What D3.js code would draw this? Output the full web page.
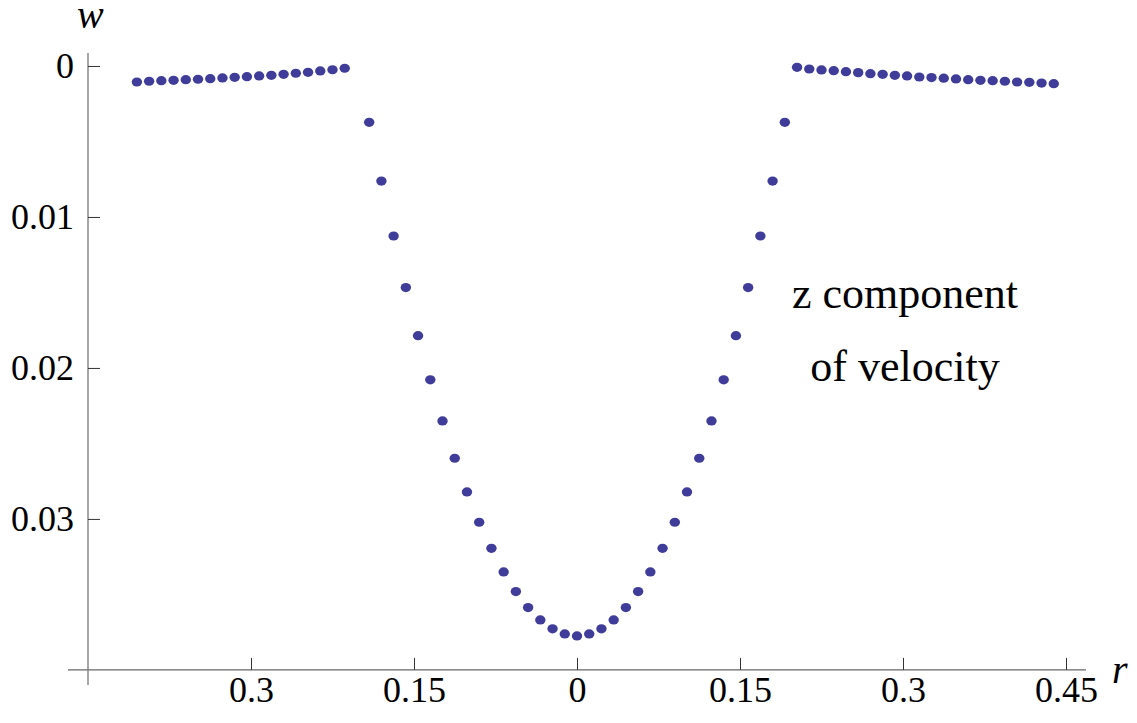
<!DOCTYPE html>
<html>
<head>
<meta charset="utf-8">
<script src="https://cdn.jsdelivr.net/npm/d3@7"></script>
</head>
<body style="margin:0">
<div id="chart"></div>
<script>
// outer region, left side (r < 0)
const rLeft = [-0.405, -0.39375, -0.3825, -0.37125, -0.36, -0.34875, -0.3375, -0.32625, -0.315,
  -0.30375, -0.2925, -0.28125, -0.27, -0.25875, -0.2475, -0.23625, -0.225, -0.21375];
const wLeft = [-0.00106, -0.00101, -0.00097, -0.00095, -0.00091, -0.00088, -0.00084, -0.00079, -0.00075,
  -0.00071, -0.00066, -0.00062, -0.00055, -0.00048, -0.00042, -0.00033, -0.00025, -0.00015];

// core, the dip
const rCore = [-0.19125, -0.18, -0.16875, -0.1575, -0.14625, -0.135, -0.12375, -0.1125, -0.10125,
  -0.09, -0.07875, -0.0675, -0.05625, -0.045, -0.03375, -0.0225, -0.01125, 0,
  0.01125, 0.0225, 0.03375, 0.045, 0.05625, 0.0675, 0.07875, 0.09, 0.10125,
  0.1125, 0.12375, 0.135, 0.14625, 0.1575, 0.16875, 0.18, 0.19125];
const wCore = [-0.00373, -0.00762, -0.01126, -0.01468, -0.01786, -0.02079, -0.02351, -0.02598, -0.02821,
  -0.03022, -0.03195, -0.03351, -0.03481, -0.03587, -0.03669, -0.03728, -0.03762, -0.03775,
  -0.03762, -0.03728, -0.03669, -0.03587, -0.03481, -0.03351, -0.03195, -0.03022, -0.02821,
  -0.02598, -0.02351, -0.02079, -0.01786, -0.01468, -0.01126, -0.00762, -0.00373];

// outer region, right side (r > 0)
const rRight = [0.2025, 0.21375, 0.225, 0.23625, 0.2475, 0.25875, 0.27, 0.28125, 0.2925, 0.30375, 0.315,
  0.32625, 0.3375, 0.34875, 0.36, 0.37125, 0.3825, 0.39375, 0.405, 0.41625, 0.4275, 0.43875];
const wRight = [-0.00009, -0.00020, -0.00026, -0.00031, -0.00038, -0.00044, -0.00051, -0.00055, -0.00062, -0.00066, -0.00073,
  -0.00077, -0.00081, -0.00086, -0.00091, -0.00095, -0.00097, -0.00101, -0.00106, -0.00108, -0.00113, -0.00117];

const xTicks = [-0.3, -0.15, 0, 0.15, 0.3, 0.45];
const yTicks = [0, -0.01, -0.02, -0.03];
const noteLines = ['z component', 'of velocity'];

const width = 1137;
const height = 723;
const serif = '"Liberation Serif"';

const points = [];
[[rLeft, wLeft], [rCore, wCore], [rRight, wRight]].forEach(([rs, ws]) => {
  rs.forEach((r, i) => points.push({ r: r, w: ws[i] }));
});

const x = d3.scaleLinear().domain([-0.4684, 0.4684]).range([68, 1086]);
const y = d3.scaleLinear().domain([0.00086, -0.041]).range([53, 685]);

const originR = -0.45;
const originW = -0.04;

const svg = d3.select('#chart')
  .append('svg')
  .attr('width', width)
  .attr('height', height)
  .style('display', 'block');

const fmt = (d) => (d === 0 ? '0' : String(Math.abs(+d.toFixed(4))));

// axis lines
svg.append('line')
  .attr('x1', x.range()[0]).attr('x2', x.range()[1])
  .attr('y1', y(originW)).attr('y2', y(originW))
  .attr('stroke', '#666').attr('stroke-width', 1.3);
svg.append('line')
  .attr('x1', x(originR)).attr('x2', x(originR))
  .attr('y1', y.range()[0]).attr('y2', y.range()[1])
  .attr('stroke', '#777').attr('stroke-width', 1.3);

// x axis ticks + labels
const xAxis = svg.append('g')
  .attr('transform', `translate(0,${y(originW)})`)
  .call(d3.axisBottom(x).tickValues(xTicks).tickFormat(fmt).tickSizeInner(-12).tickSizeOuter(0).tickPadding(7));
xAxis.attr('font-family', null).attr('font-size', null);
xAxis.select('.domain').remove();
xAxis.selectAll('.tick line').attr('stroke', '#333');
xAxis.selectAll('.tick text')
  .attr('font-size', 36)
  .style('font-family', serif)
  .attr('fill', '#000');

// y axis ticks + labels
const yAxis = svg.append('g')
  .attr('transform', `translate(${x(originR)},0)`)
  .call(d3.axisLeft(y).tickValues(yTicks).tickFormat(fmt).tickSizeInner(-12).tickSizeOuter(0).tickPadding(14));
yAxis.attr('font-family', null).attr('font-size', null);
yAxis.select('.domain').remove();
yAxis.selectAll('.tick line').attr('stroke', '#333');
yAxis.selectAll('.tick text')
  .attr('font-size', 36)
  .style('font-family', serif)
  .attr('fill', '#000');

// axis names
svg.append('text')
  .attr('x', 77).attr('y', 28)
  .attr('font-size', 40)
  .style('font-family', serif)
  .style('font-style', 'italic')
  .text('w');
svg.append('text')
  .attr('x', 1112).attr('y', 683)
  .attr('font-size', 40)
  .style('font-family', serif)
  .style('font-style', 'italic')
  .text('r');

// data points
svg.append('g')
  .selectAll('ellipse')
  .data(points)
  .join('ellipse')
  .attr('cx', (d) => x(d.r))
  .attr('cy', (d) => y(d.w))
  .attr('rx', 5.2)
  .attr('ry', 4.6)
  .attr('fill', '#3f3d99');

// annotation
svg.append('g')
  .selectAll('text')
  .data(noteLines)
  .join('text')
  .attr('x', 905)
  .attr('y', (d, i) => 308 + i * 73)
  .attr('text-anchor', 'middle')
  .attr('font-size', 44)
  .style('font-family', serif)
  .text((d) => d);
</script>
</body>
</html>
